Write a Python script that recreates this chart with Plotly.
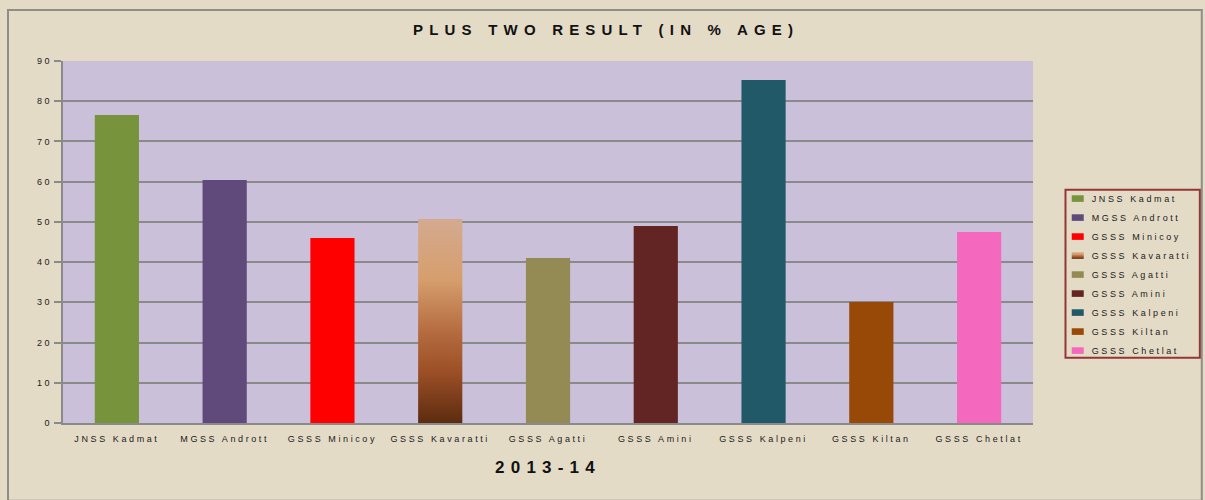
import plotly.graph_objects as go

# data
schools = ['JNSS Kadmat', 'MGSS Andrott', 'GSSS Minicoy', 'GSSS Kavaratti', 'GSSS Agatti',
           'GSSS Amini', 'GSSS Kalpeni', 'GSSS Kiltan', 'GSSS Chetlat']
result_pct = [76.6, 60.4, 46.0, 50.7, 41.0, 49.0, 85.3, 30.1, 47.5]
bar_colors = ['#77933C', '#604A7B', '#FF0000', '#C0845A', '#948A54',
              '#632523', '#215968', '#984807', '#F468BE']
y_ticks = list(range(0, 91, 10))

FONT = 'Liberation Sans, Arial, sans-serif'
BG = '#E4DBC7'

fig = go.Figure()
for name, val, col in zip(schools, result_pct, bar_colors):
    fig.add_trace(go.Bar(
        x=[name], y=[val], name=name,
        marker=dict(color=col, line=dict(width=0)),
        width=0.41,
    ))

fig.update_layout(
    width=1205, height=500,
    barmode='overlay',
    paper_bgcolor=BG,
    plot_bgcolor='#CAC0DA',
    margin=dict(l=63, r=172, t=61, b=77),
    title=dict(text='<b>PLUS TWO RESULT (IN % AGE)</b>', x=0.503, xanchor='center',
               y=0.94, yanchor='middle',
               font=dict(family=FONT, size=15, color='#111')),
    xaxis=dict(
        title=dict(text='<b>2013-14</b>', font=dict(family=FONT, size=17, color='#111'), standoff=18),
        tickfont=dict(family=FONT, size=9, color='#1A1A1A'),
        ticklabelstandoff=6,
        showline=True, linecolor='#8A8A8A', linewidth=2,
        showgrid=False, ticks='',
    ),
    yaxis=dict(
        range=[0, 90], tickvals=y_ticks,
        tickfont=dict(family=FONT, size=9, color='#1A1A1A'),
        showline=True, linecolor='#8A8A8A', linewidth=2,
        gridcolor='#8A8A8A', gridwidth=2,
        ticks='outside', ticklen=7, tickcolor='#8A8A8A', tickwidth=2,
        zeroline=False,
    ),
    legend=dict(x=1.0255, y=0.66, xanchor='left', yanchor='top',
                bgcolor='rgba(0,0,0,0)', borderwidth=0,
                font=dict(family=FONT, size=9, color='#1A1A1A'),
                itemclick=False, tracegroupgap=3),
    showlegend=True,
)

# outer frame and legend frame
fig.add_shape(type='rect', xref='paper', yref='paper',
              x0=-0.0567, x1=1.174, y0=-0.215, y1=1.141,
              line=dict(color='#8E8D86', width=2), layer='below')
fig.add_shape(type='rect', xref='paper', yref='paper',
              x0=1.0335, x1=1.172, y0=0.18, y1=0.644,
              line=dict(color='#943634', width=2), layer='above')

post = """
document.body.style.margin = '0';
var gd = document.getElementById('{plot_id}');
var ns = 'http://www.w3.org/2000/svg';
var svg = gd.querySelector('.main-svg');
var defs = svg.querySelector('defs');
var lg = document.createElementNS(ns, 'linearGradient');
lg.setAttribute('id', 'kavgrad');
lg.setAttribute('x1', '0'); lg.setAttribute('y1', '0');
lg.setAttribute('x2', '0'); lg.setAttribute('y2', '1');
[['0', '#D4AA90'], ['0.3', '#D69E6C'], ['0.55', '#B56C40'], ['0.75', '#9C4F26'], ['1', '#5C2C10']].forEach(function(s) {
  var st = document.createElementNS(ns, 'stop');
  st.setAttribute('offset', s[0]); st.setAttribute('stop-color', s[1]);
  lg.appendChild(st);
});
defs.appendChild(lg);
var tr = gd.querySelectorAll('.barlayer .trace')[3];
tr.querySelectorAll('path').forEach(function(p) { p.style.fill = 'url(#kavgrad)'; });
var lt = gd.querySelectorAll('.legend .traces')[3];
lt.querySelectorAll('.legendpoints path').forEach(function(p) { p.style.fill = 'url(#kavgrad)'; });
gd.querySelectorAll('.legend .legendpoints path').forEach(function(p) {
  p.setAttribute('transform', (p.getAttribute('transform') || '') + ' scale(1,0.55)');
});
gd.querySelectorAll('.legend .legendtext').forEach(function(t) {
  t.setAttribute('transform', 'translate(-6,0)');
});
gd.querySelectorAll('.legend .scrollbox, .legend').forEach(function(e) { e.removeAttribute('clip-path'); e.style.clipPath = 'none'; });
gd.querySelectorAll('.xtick text, .ytick text, .legendtext').forEach(function(t) { t.style.letterSpacing = '2.6px'; });
gd.querySelectorAll('.gtitle, .xtitle').forEach(function(t) { t.style.letterSpacing = '6.2px'; });
"""

fig.write_html("out.html", post_script=post, config={'displayModeBar': False})
